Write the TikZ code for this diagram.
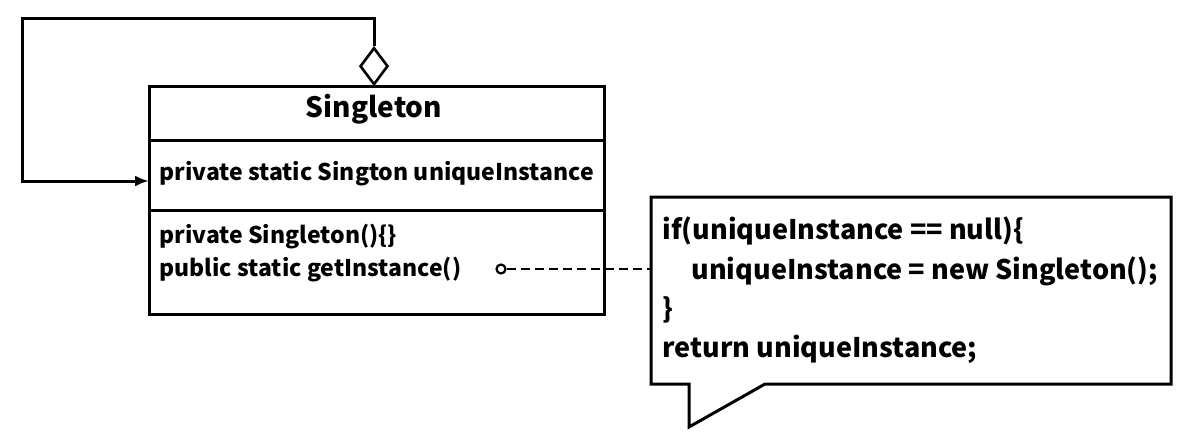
\documentclass[tikz,border=0pt]{standalone}
\usepackage{fontspec}
\setmainfont{Noto Sans CJK SC}
\usetikzlibrary{shapes.geometric,arrows.meta}
\begin{document}
\begin{tikzpicture}[x=1pt,y=-1pt,
  line width=3pt,
  part/.style={rectangle, minimum width=452, inner sep=0, anchor=north west},
  txt/.style={anchor=base west, inner sep=0, font=\fontsize{23}{26}\selectfont\bfseries},
  code/.style={anchor=base west, inner sep=0, font=\fontsize{27}{32}\selectfont\bfseries},
]
\useasboundingbox (0,0) rectangle (1185,440);
\fill[white] (0,0) rectangle (1185,440);
% class box
\node[part, minimum height=51] (title) at (149,86) {};
\node[font=\fontsize{28}{32}\selectfont\bfseries, inner sep=0] (tname) at (374,109) {Singleton};
\node[part, minimum height=67] (attrs) at (title.south west) {};
\node[part, minimum height=101] (meths) at (attrs.south west) {};
\draw (title.north west) rectangle (meths.south east);
\draw (attrs.north west) -- (attrs.north east);
\draw (meths.north west) -- ([xshift=2pt]meths.north east);
\node[txt] (a1) at (158,180) {private static Sington uniqueInstance};
\node[txt] (m1) at (158,243) {private Singleton()\{\}};
\node[txt] (m2) at (158,276) {public static getInstance()};
% aggregation diamond and self loop
\node[draw, diamond, inner sep=0, minimum width=28, minimum height=37, line width=2.6pt, anchor=south] (dia) at (374,86) {};
\coordinate (c1) at (374,18);
\coordinate (c2) at (22,18);
\coordinate (c3) at (22,181);
\draw[-{Latex[length=14pt,width=11pt]}] (dia.north) -- (c1) -- (c2) -- (c3) -- (attrs.west |- c3);
% note
\node[minimum width=517, minimum height=184, inner sep=0, anchor=north west] (note) at (651,197) {};
\coordinate (t1) at (765,382);
\coordinate (t2) at (689,427);
\coordinate (t3) at (689,382);
\draw[line join=miter] (note.north west) -- (note.north east) -- (note.south east) -- (t1 |- note.south) -- (t2) -- (t3 |- note.south) -- (note.south west) -- cycle;
\node[code] (l1) at (661,239) {if(uniqueInstance == null)\{};
\node[code] (l2) at (690,279) {uniqueInstance = new Singleton();};
\node[code] (l3) at (661,318) {\}};
\node[code] (l4) at (661,357) {return uniqueInstance;};
% dashed connector
\node[draw, circle, minimum size=9, inner sep=0, line width=2.2pt] (circ) at (501,269) {};
\draw[dash pattern=on 9pt off 5pt, line width=2.4pt] (circ.east) -- (circ -| note.west);
\end{tikzpicture}
\end{document}
